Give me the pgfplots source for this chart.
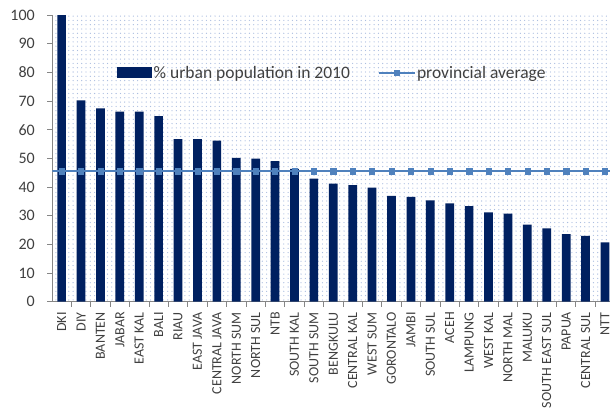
\documentclass[border=0pt]{standalone}
\usepackage{fontspec}
\setmainfont{Carlito}
\usepackage{pgfplots}
\pgfplotsset{compat=1.18}
\usetikzlibrary{patterns.meta}
\definecolor{barnavy}{RGB}{0,32,96}
\definecolor{avgblue}{RGB}{79,129,189}
\definecolor{dotcol}{RGB}{172,190,224}
\definecolor{axgray}{RGB}{134,134,134}
\definecolor{txtgray}{RGB}{64,64,64}
\pgfplotsset{
  barleg/.style={legend image code/.code={\fill[barnavy] (0pt,-5.5pt) rectangle (35pt,5.5pt);}},
  lineleg/.style={legend image code/.code={\draw[##1, mark repeat=2, mark phase=2] plot coordinates {(0pt,0pt) (18pt,0pt) (36pt,0pt)};}},
}
\pgfplotstableread{
x val
0 100
1 70.2
2 67.4
3 66.3
4 66.3
5 64.7
6 56.7
7 56.7
8 56.2
9 50.2
10 49.9
11 49.0
12 46.3
13 42.9
14 41.2
15 40.7
16 39.8
17 36.9
18 36.6
19 35.3
20 34.3
21 33.3
22 31.2
23 30.7
24 26.9
25 25.6
26 23.6
27 23.0
28 20.7
}\urbdata
\begin{document}
\begin{tikzpicture}
\begin{axis}[
  at={(0,0)}, anchor=south west,
  scale only axis,
  width=557.7pt, height=286.7pt,
  xmin=-0.48, xmax=28.26,
  ymin=0, ymax=100,
  axis lines=left,
  axis line style={-, draw=axgray, line width=0.8pt},
  axis background/.style={pattern={Dots[distance=4.3pt,radius=0.65pt]}, pattern color=dotcol},
  xtick={0,...,28},
  xticklabels={DKI, DIY, BANTEN, JABAR, EAST KAL, BALI, RIAU, EAST JAVA, CENTRAL JAVA, NORTH SUM, NORTH SUL, NTB, SOUTH KAL, SOUTH SUM, BENGKULU, CENTRAL KAL, WEST SUM, GORONTALO, JAMBI, SOUTH SUL, ACEH, LAMPUNG, WEST KAL, NORTH MAL, MALUKU, SOUTH EAST SUL, PAPUA, CENTRAL SUL, NTT},
  minor xtick={-0.5,0.5,...,28.5},
  major x tick style={draw=none},
  minor x tick style={draw=axgray, line width=0.8pt},
  minor tick length=5pt,
  ytick={0,10,...,100},
  major y tick style={draw=axgray, line width=0.8pt},
  major tick length=5pt,
  tick align=outside,
  /pgf/number format/assume math mode=true,
  xticklabel style={rotate=90, anchor=east, font=\fontsize{14}{15}\selectfont, text=txtgray, xshift=-2pt},
  yticklabel style={font=\fontsize{16}{18}\selectfont, text=txtgray, xshift=-9pt},
  legend style={at={(0.116,0.798)}, anchor=west, draw=none, fill=none,
    inner sep=0pt, font=\fontsize{17.5}{19}\selectfont, text=txtgray,
    nodes={inner sep=1.5pt},
    /tikz/every even column/.append style={column sep=26pt}},
  legend columns=2,
]
\addplot[ybar, bar width=8.7pt, fill=barnavy, draw=none, barleg]
  table[x=x, y=val] {\urbdata};
\addlegendentry{\% urban population in 2010}
\addplot[avgblue, line width=2pt, mark=square*, mark size=2.6pt, mark options={fill=avgblue, draw=avgblue, line width=0.4pt}, lineleg]
  coordinates {(0,45.5) (1,45.5) (2,45.5) (3,45.5) (4,45.5) (5,45.5) (6,45.5) (7,45.5) (8,45.5) (9,45.5) (10,45.5) (11,45.5) (12,45.5) (13,45.5) (14,45.5) (15,45.5) (16,45.5) (17,45.5) (18,45.5) (19,45.5) (20,45.5) (21,45.5) (22,45.5) (23,45.5) (24,45.5) (25,45.5) (26,45.5) (27,45.5) (28,45.5)};
\addlegendentry{provincial average}
\addplot[avgblue, line width=2pt, forget plot] coordinates {(-0.48,45.5) (28.26,45.5)};
\end{axis}
\pgfresetboundingbox
\path (-52.3pt,-114.3pt) rectangle (557.7pt,301.7pt);
\end{tikzpicture}
\end{document}
